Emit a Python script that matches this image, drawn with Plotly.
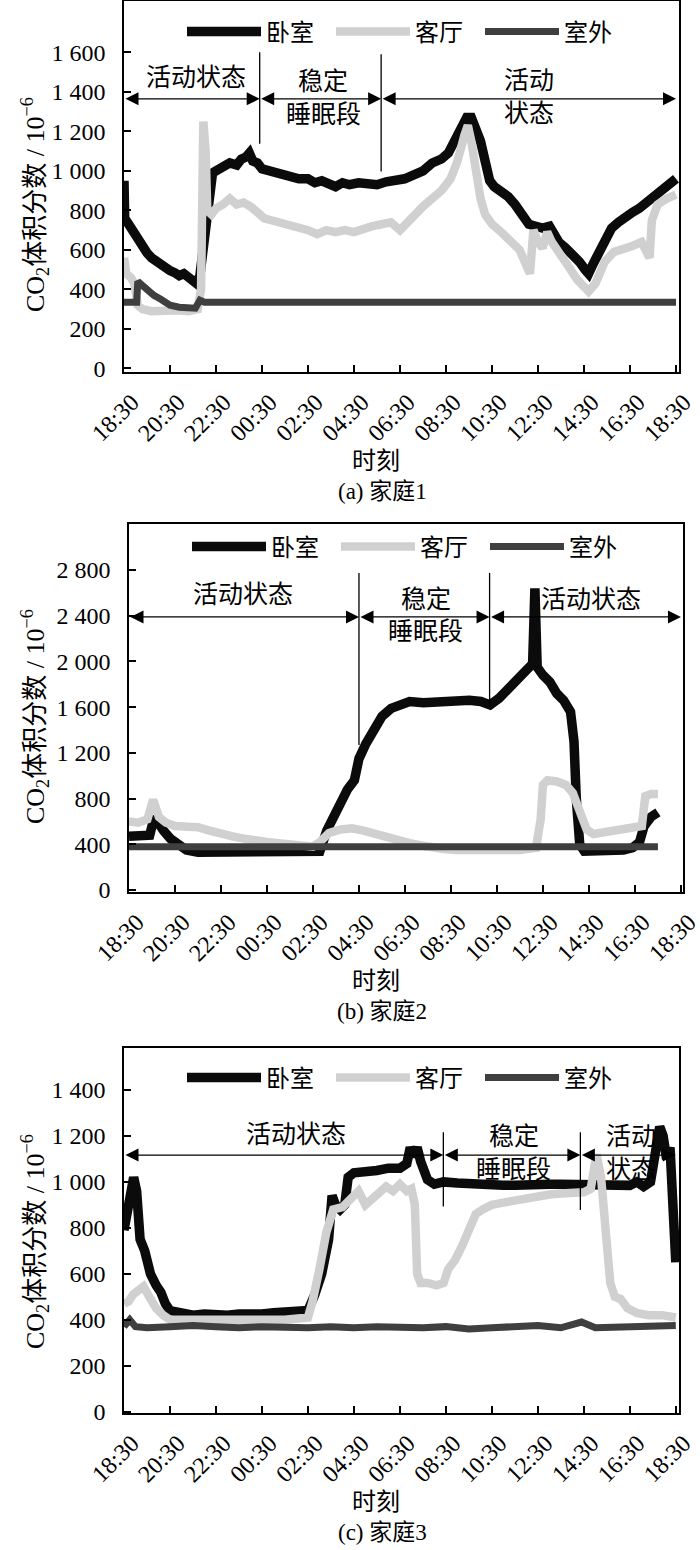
import plotly.graph_objects as go
from plotly.subplots import make_subplots

# time axis: hours after 18:30
tick_hours = [0, 2, 4, 6, 8, 10, 12, 14, 16, 18, 20, 22, 24]
tick_labels = ["18:30", "20:30", "22:30", "00:30", "02:30", "04:30", "06:30",
               "08:30", "10:30", "12:30", "14:30", "16:30", "18:30"]

# ---- (a) family 1 ----
t1_bed = [0.0, 0.03, 0.2, 0.4, 0.6, 0.8, 1.0, 1.2, 1.4, 1.6, 1.8, 2.0, 2.2, 2.4, 2.6, 2.8,
          3.0, 3.15, 3.3, 3.4, 3.5, 3.6, 3.75, 3.85, 4.0, 4.3, 4.6, 4.9, 5.1, 5.3, 5.45,
          5.6, 5.8, 6.0, 6.3, 6.6, 7.0, 7.3, 7.6, 8.0, 8.3, 8.6, 8.9, 9.2, 9.5, 9.8,
          10.2, 10.6, 11.0, 11.4, 11.8, 12.2, 12.6, 13.0, 13.4, 13.8, 14.1, 14.4, 14.7,
          14.9, 15.1, 15.3, 15.5, 15.7, 15.9, 16.1, 16.4, 16.7, 17.0, 17.3, 17.6, 17.9,
          18.2, 18.5, 18.7, 18.9, 19.2, 19.5, 19.8, 20.05, 20.2, 20.4, 20.6, 20.9, 21.2,
          21.5, 21.8, 22.1, 22.4, 22.7, 23.0, 23.3, 23.6, 23.9, 24.0]
v1_bed = [950, 760, 730, 690, 650, 610, 585, 560, 540, 525, 505, 495, 485, 470, 480, 460,
          450, 430, 470, 560, 650, 800, 900, 990, 1000, 1020, 1040, 1030, 1060, 1070, 1090,
          1050, 1040, 1010, 1000, 990, 980, 970, 960, 960, 940, 950, 930, 920, 940, 930,
          940, 935, 930, 945, 950, 960, 980, 1000, 1040, 1060, 1090, 1150, 1220,
          1270, 1270, 1220, 1150, 1050, 950, 920, 900, 870, 830, 770, 730, 720,
          710, 720, 680, 640, 610, 580, 540, 500, 480, 530, 580, 650, 710,
          740, 770, 790, 810, 840, 860, 890, 920, 950, 960]
t1_liv = [0.0, 0.1, 0.3, 0.45, 0.6, 0.8, 1.2, 1.6, 2.0, 2.4, 2.8, 3.2, 3.35, 3.45, 3.55,
          3.62, 3.8, 4.0, 4.3, 4.6, 4.9, 5.2, 5.5, 5.8, 6.1, 6.4, 6.8, 7.2, 7.6, 8.0, 8.4,
          8.8, 9.2, 9.6, 10.0, 10.4, 10.8, 11.2, 11.6, 12.0, 12.3, 12.6, 13.0, 13.4, 13.8,
          14.2, 14.5, 14.8, 14.95, 15.1, 15.3, 15.5, 15.7, 16.0, 16.4, 16.8, 17.2, 17.5,
          17.65, 17.8, 18.0, 18.2, 18.4, 18.6, 18.9, 19.3, 19.7, 20.0, 20.2, 20.5, 20.9,
          21.3, 21.7, 22.1, 22.5, 22.7, 22.85, 22.95, 23.2, 23.6, 24.0]
v1_liv = [560, 480, 460, 430, 320, 300, 290, 295, 300, 295, 290, 300, 400, 1250, 1100,
          800, 780, 810, 830, 860, 830, 840, 820, 790, 760, 750, 740, 730, 710, 700, 680,
          700, 690, 700, 690, 710, 720, 730, 740, 700, 740, 780, 820, 860, 900,
          960, 1050, 1180, 1230, 1150, 980, 860, 780, 730, 690, 650, 600, 520,
          480, 700, 640, 610, 690, 640, 580, 520, 450, 410, 390, 430, 540,
          590, 600, 620, 640, 590, 560, 750, 830, 860, 880]
t1_out = [0.0, 0.55, 0.6, 0.8, 1.0, 1.3, 1.6, 2.0, 2.4, 2.8, 3.1, 3.3, 3.5, 24.0]
v1_out = [335, 335, 440, 420, 390, 370, 350, 320, 310, 305, 305, 345, 335, 335]

# ---- (b) family 2 ----
t2_bed = [0.0, 0.5, 0.9, 1.1, 1.25, 1.5, 1.8, 2.1, 2.5, 3.0, 4.0, 5.0, 6.0, 7.0, 8.0, 8.3,
          8.6, 8.9, 9.2, 9.5, 9.8, 10.0, 10.3, 10.6, 11.0, 11.4, 11.8, 12.2, 12.8, 13.3,
          13.8, 14.3, 14.8, 15.3, 15.7, 16.1, 16.5, 16.9, 17.3, 17.55, 17.65, 17.75, 18.0,
          18.3, 18.6, 18.9, 19.2, 19.35, 19.45, 19.6, 19.8, 20.5, 21.0, 21.5, 21.9, 22.2,
          22.4, 22.7, 23.0]
v2_bed = [470, 470, 480, 640, 580, 520, 450, 400, 350, 330, 330, 320, 330, 320, 330, 340,
          520, 650, 760, 880, 960, 1150, 1280, 1400, 1520, 1590, 1630, 1650, 1640, 1650,
          1640, 1660, 1660, 1650, 1620, 1680, 1760, 1850, 1910, 1980, 2640, 1950, 1880,
          1820, 1720, 1660, 1560, 1300, 800, 400, 340, 340, 340, 350, 370, 420,
          560, 640, 680]
t2_liv = [0.0, 0.4, 0.8, 1.05, 1.3, 1.6, 2.0, 2.5, 3.0, 3.5, 4.0, 4.5, 5.0, 5.5, 6.0, 6.5,
          7.0, 7.5, 8.0, 8.3, 8.7, 9.2, 9.7, 10.2, 10.7, 11.2, 11.7, 12.2, 12.7, 13.2, 13.7,
          14.2, 15.0, 16.0, 17.0, 17.7, 17.9, 18.0, 18.2, 18.6, 19.0, 19.3, 19.6, 19.9,
          20.2, 20.6, 21.0, 21.5, 22.0, 22.3, 22.45, 22.7, 23.0]
v2_liv = [600, 590, 620, 790, 640, 590, 560, 560, 550, 520, 490, 470, 450, 430, 420, 410,
          400, 390, 380, 420, 500, 530, 540, 520, 490, 460, 430, 410, 390, 370, 360,
          350, 350, 350, 350, 370, 620, 920, 960, 950, 920, 850, 700, 530,
          490, 500, 520, 530, 550, 560, 820, 840, 840]
t2_out = [0.0, 23.0]
v2_out = [380, 380]

# ---- (c) family 3 ----
t3_bed = [0.0, 0.15, 0.3, 0.42, 0.55, 0.7, 0.9, 1.15, 1.4, 1.6, 1.8, 2.0, 2.5, 3.0, 3.5,
          4.0, 4.5, 5.0, 5.5, 6.0, 6.5, 7.0, 7.5, 8.0, 8.3, 8.6, 8.9, 9.05, 9.2, 9.4, 9.6,
          9.75, 10.0, 10.5, 11.0, 11.5, 12.0, 12.3, 12.45, 12.6, 12.75, 12.9, 13.05, 13.2,
          13.5, 13.9, 14.5, 15.0, 15.5, 16.0, 16.5, 17.0, 17.5, 18.0, 18.5, 19.0, 19.5,
          19.9, 20.5, 21.0, 21.5, 22.0, 22.3, 22.6, 22.9, 23.1, 23.3, 23.45, 23.6, 23.75,
          23.85, 24.0]
v3_bed = [790, 880, 980, 1020, 960, 750, 700, 600, 550, 520, 470, 440, 430, 420, 425,
          420, 420, 425, 420, 425, 430, 430, 430, 440, 510, 600, 750, 940, 900, 880, 900,
          1020, 1040, 1040, 1050, 1060, 1060, 1080, 1150, 1110, 1150, 1090, 1040, 1010,
          990, 1000, 995, 990, 985, 990, 985, 985, 990, 985, 990, 990, 990,
          990, 990, 990, 990, 985, 1000, 980, 1000, 1120, 1240, 1200, 1100, 1150,
          900, 650]
t3_liv = [0.0, 0.2, 0.4, 0.7, 0.85, 1.1, 1.4, 1.7, 2.0, 3.0, 4.0, 5.0, 6.0, 7.0, 8.0, 8.2,
          8.5, 8.8, 9.1, 9.5, 9.9, 10.2, 10.5, 10.8, 11.1, 11.4, 11.7, 12.0, 12.3, 12.5,
          12.65, 12.75, 12.9, 13.2, 13.6, 13.9, 14.1, 14.4, 14.7, 15.0, 15.3, 15.6, 16.0,
          16.5, 17.0, 17.5, 18.0, 18.5, 19.0, 19.5, 20.0, 20.3, 20.55, 20.75, 20.95, 21.15,
          21.35, 21.6, 21.9, 22.3, 22.8, 23.4, 24.0]
v3_liv = [470, 480, 510, 540, 545, 500, 450, 420, 400, 400, 400, 400, 400, 400, 410, 480,
          620, 780, 880, 890, 930, 960, 900, 930, 950, 980, 960, 990, 960, 970,
          900, 600, 560, 560, 550, 560, 620, 660, 720, 790, 860, 880, 900,
          910, 920, 930, 940, 945, 950, 955, 955, 970, 1120, 1020, 800, 560,
          500, 490, 450, 430, 420, 420, 410]
t3_out = [0.0, 0.25, 0.5, 1.0, 2.0, 3.0, 4.0, 5.0, 6.0, 7.0, 8.0, 9.0, 10.0, 11.0, 12.0,
          13.0, 14.0, 15.0, 16.0, 17.0, 18.0, 19.0, 19.9, 20.5, 21.5, 22.5, 24.0]
v3_out = [370, 400, 370, 365, 370, 375, 370, 365, 370, 365, 365, 370, 365, 370, 365,
          365, 370, 360, 365, 370, 375, 365, 390, 365, 370, 370, 375]

# phase boundaries (hours) and y of the arrows
bounds = [[0, 5.9, 11.18, 24], [0, 10.0, 15.68, 24], [0, 13.89, 19.85, 24]]
arrow_y = [1365, 2390, 1117]
vline_y = [[(1137, 1600), (997, 1590)], [(1270, 2775), (1604, 2775)], [(893, 1216), (878, 1216)]]
phase_text = [
    [("活动状态", 3.15, 1474), ("稳定", 8.67, 1452), ("睡眠段", 8.67, 1284),
     ("活动", 17.6, 1457), ("状态", 17.6, 1290)],
    [("活动状态", 4.94, 2582), ("稳定", 12.9, 2540), ("睡眠段", 12.9, 2260),
     ("活动状态", 20.1, 2540)],
    [("活动状态", 7.47, 1205), ("稳定", 16.95, 1198), ("睡眠段", 16.95, 1053),
     ("活动", 22.07, 1198), ("状态", 22.07, 1053)],
]
y_ticks = [[0, 200, 400, 600, 800, 1000, 1200, 1400, 1600],
           [0, 400, 800, 1200, 1600, 2000, 2400, 2800],
           [0, 200, 400, 600, 800, 1000, 1200, 1400]]
y_ranges = [[-18, 1860], [-17, 3203], [-6, 1583]]
x_ranges = [[0, 24.13], [0, 24.09], [0, 24.14]]
captions = ["(a) 家庭1", "(b) 家庭2", "(c) 家庭3"]

series = [
    [(t1_bed, v1_bed), (t1_liv, v1_liv), (t1_out, v1_out)],
    [(t2_bed, v2_bed), (t2_liv, v2_liv), (t2_out, v2_out)],
    [(t3_bed, v3_bed), (t3_liv, v3_liv), (t3_out, v3_out)],
]
names = ["卧室", "客厅", "室外"]
colors = ["#0b0b0b", "#d0d0d0", "#3f3f3f"]
widths = [9.5, 8.5, 7]

FONT = "Liberation Serif, Noto Sans CJK SC"

# pixel layout of the three panels (top, bottom, left, right)
boxes = [(1, 372, 124, 679), (524, 892, 129, 683), (1048, 1413, 124, 679)]
W, H = 700, 1550

fig = make_subplots(rows=3, cols=1)

legend_names = ["legend", "legend2", "legend3"]
for i in range(3):
    for j in range(3):
        t, v = series[i][j]
        fig.add_trace(go.Scatter(x=t, y=v, mode="lines", name=names[j],
                                 line=dict(color=colors[j], width=widths[j]),
                                 legend=legend_names[i]), row=i + 1, col=1)

layout = {}
annotations = []
shapes = []
for i in range(3):
    top, bot, left, right = boxes[i]
    xa = "xaxis" if i == 0 else "xaxis%d" % (i + 1)
    ya = "yaxis" if i == 0 else "yaxis%d" % (i + 1)
    xr = "x" if i == 0 else "x%d" % (i + 1)
    yr = "y" if i == 0 else "y%d" % (i + 1)
    layout[xa] = dict(domain=[left / W, right / W], range=x_ranges[i], automargin=False,
                      tickvals=tick_hours, ticktext=tick_labels, tickangle=-45,
                      ticks="inside", ticklen=7, tickwidth=1.5, tickcolor="black",
                      showline=True, mirror=True, linecolor="black", linewidth=1.5,
                      showgrid=False, zeroline=False, ticklabeloverflow="allow",
                      ticklabelshift=8, ticklabelstandoff=5,
                      tickfont=dict(family=FONT, size=24, color="black"))
    layout[ya] = dict(domain=[1 - bot / H, 1 - top / H], range=y_ranges[i], automargin=False,
                      tickvals=y_ticks[i], tickformat=",d",
                      ticks="inside", ticklen=7, tickwidth=1.5, tickcolor="black",
                      showline=True, mirror=True, linecolor="black", linewidth=1.5,
                      showgrid=False, zeroline=False, ticklabelstandoff=12,
                      tickfont=dict(family=FONT, size=24, color="black"))
    legend_y = [32, 547, 1078][i]
    layout[legend_names[i]] = dict(orientation="h", x=(boxes[i][2] + 58) / W,
                                   y=1 - legend_y / H, xanchor="left", yanchor="middle",
                                   itemwidth=74, entrywidth=60, bgcolor="rgba(0,0,0,0)",
                                   font=dict(family=FONT, size=24, color="black"))

    # phase arrows
    b = bounds[i]
    for k in range(3):
        annotations.append(dict(x=b[k + 1], y=arrow_y[i], ax=b[k], ay=arrow_y[i],
                                xref=xr, yref=yr, axref=xr, ayref=yr, text="",
                                showarrow=True, arrowside="end+start", arrowhead=2,
                                arrowsize=2, arrowwidth=1.3, arrowcolor="black"))
    for k in range(2):
        y0, y1 = vline_y[i][k]
        shapes.append(dict(type="line", xref=xr, yref=yr, x0=b[k + 1], x1=b[k + 1],
                           y0=y0, y1=y1, line=dict(color="black", width=1.3)))
    for txt, hx, vy in phase_text[i]:
        annotations.append(dict(x=hx, y=vy, xref=xr, yref=yr, text=txt, showarrow=False,
                                font=dict(family=FONT, size=25, color="black")))

    # axis titles and captions
    title_mid = [205, 717, 1242][i]
    annotations.append(dict(x=35 / W, y=1 - title_mid / H, xref="paper", yref="paper",
                            xanchor="center", yanchor="middle",
                            text="CO<sub>2</sub>体积分数 / 10<sup>−6</sup>", textangle=-90,
                            showarrow=False, font=dict(family=FONT, size=26, color="black")))
    annotations.append(dict(x=376 / W, y=1 - (bot + 89) / H, xref="paper", yref="paper",
                            xanchor="center", yanchor="middle",
                            text="时刻", showarrow=False,
                            font=dict(family=FONT, size=24, color="black")))
    annotations.append(dict(x=382 / W, y=1 - (bot + 119) / H, xref="paper", yref="paper",
                            xanchor="center", yanchor="middle",
                            text=captions[i], showarrow=False,
                            font=dict(family=FONT, size=23, color="black")))

fig.update_layout(**layout)
fig.update_layout(width=W, height=H,
                  margin=dict(l=0, r=0, t=0, b=0, pad=0, autoexpand=False),
                  paper_bgcolor="white", plot_bgcolor="white", separators=". ",
                  annotations=annotations, shapes=shapes,
                  font=dict(family=FONT, color="black"))

fig.write_html("out.html", config={"displayModeBar": False},
               post_script="document.body.style.margin='0px';")
